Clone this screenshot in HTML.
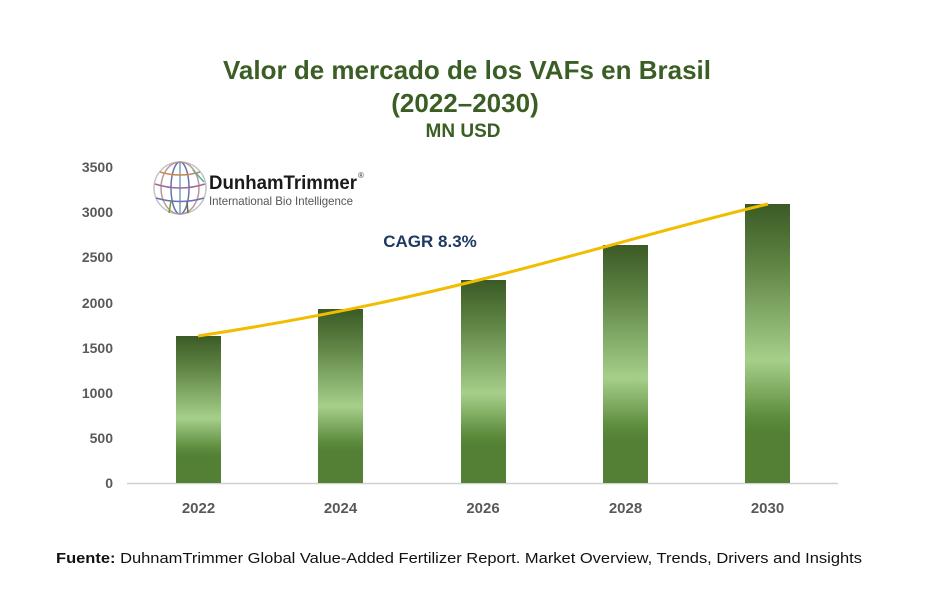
<!DOCTYPE html>
<html><head><meta charset="utf-8"><style>
html,body{margin:0;padding:0;background:#fff;}
svg{display:block;}
</style></head><body>
<svg width="944" height="615" viewBox="0 0 944 615" xmlns="http://www.w3.org/2000/svg">
<defs>
<linearGradient id="g" x1="0" y1="0" x2="0" y2="1">
<stop offset="0" stop-color="#3b5a25"/>
<stop offset="0.22" stop-color="#5f8545"/>
<stop offset="0.56" stop-color="#a6cf8a"/>
<stop offset="0.76" stop-color="#5e8d3e"/>
<stop offset="0.82" stop-color="#538034"/>
<stop offset="1" stop-color="#538034"/>
</linearGradient>
</defs>
<rect width="944" height="615" fill="#fff"/>
<g font-family="Liberation Sans, sans-serif" font-weight="bold" fill="#3a5e24" text-anchor="middle">
<text x="467" y="79" font-size="26" textLength="488" lengthAdjust="spacingAndGlyphs">Valor de mercado de los VAFs en Brasil</text>
<text x="465" y="112" font-size="26">(2022–2030)</text>
<text x="463" y="137" font-size="19">MN USD</text>
</g>
<g font-family="Liberation Sans, sans-serif" font-weight="bold" fill="#595959" font-size="14" text-anchor="end">
<text x="113" y="172">3500</text>
<text x="113" y="217">3000</text>
<text x="113" y="262">2500</text>
<text x="113" y="308">2000</text>
<text x="113" y="353">1500</text>
<text x="113" y="398">1000</text>
<text x="113" y="443">500</text>
<text x="113" y="488">0</text>
</g>
<line x1="127" y1="483.5" x2="838" y2="483.5" stroke="#d0d0d0" stroke-width="1.5"/>
<rect x="176" y="336" width="45" height="147" fill="url(#g)"/>
<rect x="318" y="309" width="45" height="174" fill="url(#g)"/>
<rect x="461" y="280" width="45" height="203" fill="url(#g)"/>
<rect x="603" y="245" width="45" height="238" fill="url(#g)"/>
<rect x="745" y="204" width="45" height="279" fill="url(#g)"/>
<path d="M198 336 C 290 322, 380 305, 483 279 S 680 225, 768 204" fill="none" stroke="#f2bd00" stroke-width="3"/>
<g font-family="Liberation Sans, sans-serif" font-weight="bold" fill="#595959" font-size="15" text-anchor="middle">
<text x="198.5" y="513">2022</text>
<text x="340.5" y="513">2024</text>
<text x="483" y="513">2026</text>
<text x="625.5" y="513">2028</text>
<text x="767.5" y="513">2030</text>
</g>
<text x="430" y="247" font-family="Liberation Sans, sans-serif" font-weight="bold" font-size="17" fill="#1f3864" text-anchor="middle">CAGR 8.3%</text>
<!-- logo -->
<g fill="none" stroke-width="1.5">
<circle cx="180" cy="188" r="26" stroke="#c4c4c4"/>
<ellipse cx="180" cy="188" rx="9" ry="26" stroke="#6a70b0"/>
<ellipse cx="180" cy="188" rx="19" ry="26" stroke="#b89a9a"/>
<line x1="180" y1="162" x2="180" y2="214" stroke="#7aa0c0"/>
<path d="M160 172 Q180 178 200 172" stroke="#c88a50"/>
<path d="M155 184 Q180 192 205 184" stroke="#9a6a9a"/>
<path d="M156 198 Q180 205 204 198" stroke="#6a70b0"/>
<path d="M171 201 L169 213" stroke="#6aa040"/>
<path d="M187 202 L188 213" stroke="#5a7a3a"/>
<path d="M193 170 L204 182" stroke="#50b0a0"/>
</g>
<text x="209" y="189" font-family="Liberation Sans, sans-serif" font-weight="bold" font-size="19" fill="#1a1a1a" textLength="148" lengthAdjust="spacingAndGlyphs">DunhamTrimmer</text>
<text x="358" y="178" font-family="Liberation Sans, sans-serif" font-size="8" fill="#333">®</text>
<text x="209" y="205" font-family="Liberation Sans, sans-serif" font-size="12" fill="#555" textLength="144" lengthAdjust="spacingAndGlyphs">International Bio Intelligence</text>
<text x="56" y="563" font-family="Liberation Sans, sans-serif" font-size="14.5" fill="#111" textLength="806" lengthAdjust="spacingAndGlyphs"><tspan font-weight="bold">Fuente:</tspan> DuhnamTrimmer Global Value-Added Fertilizer Report. Market Overview, Trends, Drivers and Insights</text>
</svg>
</body></html>
